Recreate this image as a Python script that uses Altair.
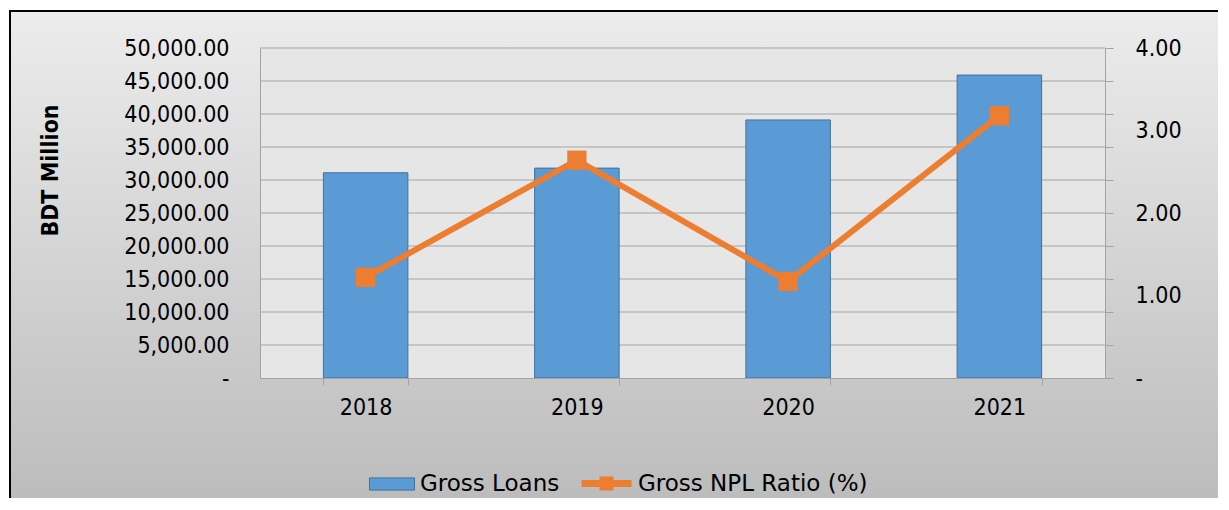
import altair as alt
import pandas as pd

# ---- data ----
years = ["2018", "2019", "2020", "2021"]
gross_loans = [31100, 31800, 39100, 45900]
npl_ratio = [1.22, 2.64, 1.17, 3.18]
loan_grid = [5000, 10000, 15000, 20000, 25000, 30000, 35000, 40000, 45000, 50000]
ratio_ticks = [0, 0.4, 0.8, 1, 1.2, 1.6, 2, 2.4, 2.8, 3, 3.2, 3.6, 4]
series_names = ["Gross Loans", "Gross NPL Ratio (%)"]

W, H = 845, 330
FONT = "DejaVu Sans Condensed"
LEG_FONT = "DejaVu Sans"
GRID = "#a3a3a3"
BLUE = "#5b9bd5"
ORANGE = "#ed7d31"

df = pd.DataFrame({
    "year": years,
    "loans": gross_loans,
    "npl": npl_ratio,
    "s1": series_names[0],
    "s2": series_names[1],
})
grid_df = pd.DataFrame({"loans": loan_grid})
one = pd.DataFrame({"k": [0]})

x_enc = alt.X(
    "year:N",
    scale=alt.Scale(paddingInner=0.6, paddingOuter=0.3),
    axis=alt.Axis(
        title=None, labelAngle=0, tickBand="extent", tickSize=7,
        tickColor=GRID, domainColor=GRID, labelPadding=11,
        labelFontSize=23, labelColor="black", labelFont=FONT, zindex=1,
    ),
)

y_left = alt.Y(
    "loans:Q",
    scale=alt.Scale(domain=[0, 50000], nice=False),
    axis=alt.Axis(
        orient="left", values=[0] + loan_grid, grid=False, ticks=False, tickSize=0,
        labelExpr="datum.value == 0 ? '-' : format(datum.value, ',.2f')",
        labelPadding=31, labelFontSize=23, labelColor="black", labelFont=FONT,
        domainColor=GRID, title="BDT Million", titleFont=FONT,
        titleFontSize=23, titleFontWeight="bold", titleColor="black",
        titleAngle=270, titleX=-210, titleY=122, titleAlign="center",
        titleBaseline="middle", zindex=1,
    ),
)

y_right = alt.Y(
    "npl:Q",
    scale=alt.Scale(domain=[0, 4], nice=False),
    axis=alt.Axis(
        orient="right", values=ratio_ticks, grid=False, tickSize=8,
        tickColor=GRID, domainColor=GRID,
        tickOpacity={"condition": {"test": "datum.value == 1 || datum.value == 3", "value": 0}, "value": 1},
        labelExpr="datum.value == 0 ? '-' : (datum.value % 1 == 0 ? format(datum.value, '.2f') : '')",
        labelPadding=22, labelFontSize=23, labelColor="black", labelFont=FONT,
        title=None, zindex=1,
    ),
)

bg = alt.Chart(one).mark_rect(
    fill=alt.Gradient(
        gradient="linear",
        stops=[alt.GradientStop(color="#ececec", offset=0),
               alt.GradientStop(color="#bbbbbb", offset=1)],
        x1=0, x2=0, y1=0, y2=1,
    ),
    stroke="black", strokeWidth=2,
).encode(x=alt.value(-250), x2=alt.value(969), y=alt.value(-37), y2=alt.value(462))

plot_bg = alt.Chart(one).mark_rect(fill="#e6e6e6").encode(
    x=alt.value(0), x2=alt.value(W), y=alt.value(0), y2=alt.value(H)
)

rules = alt.Chart(grid_df).mark_rule(color=GRID, strokeWidth=1.2).encode(y=y_left)

bars = alt.Chart(df).mark_bar(stroke="#41719c", strokeWidth=1).encode(
    x=x_enc,
    y=y_left,
    fill=alt.Fill(
        "s1:N",
        scale=alt.Scale(domain=[series_names[0]], range=[BLUE]),
        legend=alt.Legend(
            title=None, orient="none", legendX=109, legendY=413,
            symbolType="M-1,-0.27H1V0.27H-1Z", symbolSize=2025,
            symbolStrokeColor="#41719c", symbolStrokeWidth=1,
            labelFontSize=23, labelColor="black", labelFont=LEG_FONT,
            labelOffset=5, labelLimit=400, padding=0, zindex=1,
        ),
    ),
)

line = alt.Chart(df).mark_line(strokeWidth=6).encode(
    x=x_enc,
    y=y_right,
    stroke=alt.Stroke(
        "s2:N",
        scale=alt.Scale(domain=[series_names[1]], range=[ORANGE]),
        legend=alt.Legend(
            title=None, orient="none", legendX=318, legendY=407,
            symbolType="M-1,0H1M-0.14,-0.14H0.14V0.14H-0.14Z", symbolSize=2500,
            symbolStrokeWidth=7,
            labelFontSize=23, labelColor="black", labelFont=LEG_FONT,
            labelOffset=3, labelLimit=400, padding=0, zindex=1,
        ),
    ),
)

points = alt.Chart(df).mark_square(size=370, color=ORANGE, opacity=1).encode(
    x=x_enc, y=y_right
)

left = alt.layer(rules, bars)
right = alt.layer(line, points)

chart = (
    alt.layer(bg, plot_bg, left, right)
    .resolve_scale(y="independent")
    .properties(
        width=W, height=H,
        autosize=alt.AutoSizeParams(type="none"),
        padding={"left": 252, "top": 40, "right": 113, "bottom": 120},
        background="white",
    )
    .configure(font=FONT)
    .configure_view(strokeOpacity=0)
)

chart.save("out.html", embed_options={"renderer": "svg", "actions": False})
